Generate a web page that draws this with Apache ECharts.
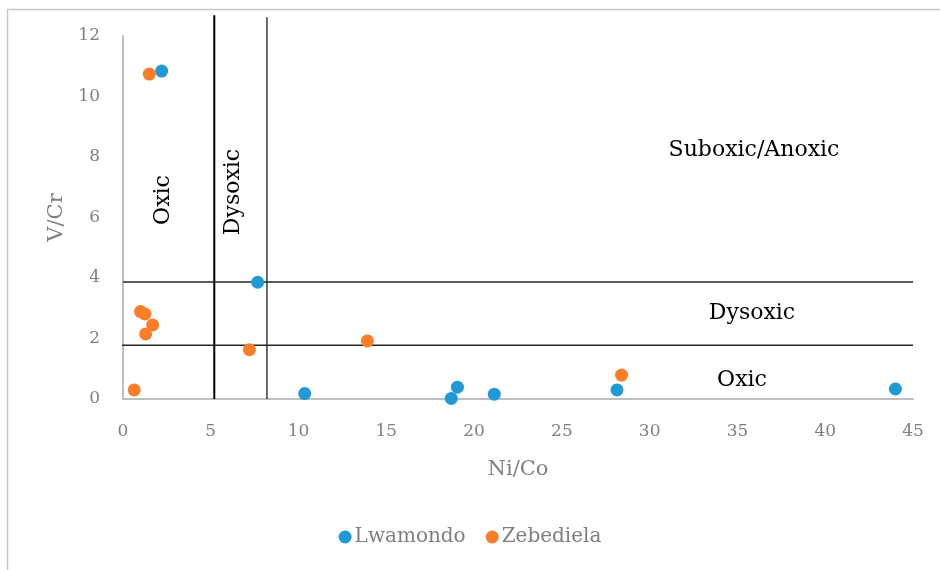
<!DOCTYPE html>
<html>
<head>
<meta charset="utf-8">
<script src="https://cdn.jsdelivr.net/npm/echarts@6/dist/echarts.min.js"></script>
<style>html,body{margin:0;padding:0;background:#fff}#c{width:940px;height:570px}</style>
</head>
<body>
<div id="c"></div>
<script>
const lwamondoX = [2.2, 7.67, 10.35, 18.7, 19.05, 21.15, 28.14, 44.0];
const lwamondoY = [10.84, 3.86, 0.18, 0.02, 0.39, 0.16, 0.30, 0.33];
const zebedielaX = [1.5, 1.0, 1.25, 1.69, 1.29, 0.64, 7.2, 13.92, 28.4];
const zebedielaY = [10.74, 2.89, 2.81, 2.45, 2.15, 0.30, 1.63, 1.92, 0.79];
const xTicks = [0, 5, 10, 15, 20, 25, 30, 35, 40, 45];
const yTicks = [0, 2, 4, 6, 8, 10, 12];
const boundaryV1 = [[5.2, 0], [5.2, 12.69]];
const boundaryV2 = [[8.2, 0], [8.2, 12.62]];
const boundaryH1 = [[0, 3.87], [45, 3.87]];
const boundaryH2 = [[-0.1, 1.775], [45, 1.775]];

const font = 'DejaVu Serif';
const pairs = (xs, ys) => xs.map((x, i) => [x, ys[i]]);
const chart = echarts.init(document.getElementById('c'));
const lineSeries = (data, color, width) => ({
  type: 'line', data: data, symbol: 'none', clip: false, silent: true,
  lineStyle: { color: color, width: width }, z: 1, animation: false
});
chart.setOption({
  animation: false,
  grid: { left: 123, right: 27, top: 36, bottom: 171 },
  xAxis: {
    type: 'value', min: 0, max: 45, interval: 5,
    name: 'Ni/Co', nameLocation: 'middle', nameGap: 60,
    nameTextStyle: { fontFamily: font, fontSize: 21, color: '#808080' },
    axisLine: { lineStyle: { color: '#BFBFBF', width: 2 } },
    axisTick: { show: false },
    splitLine: { show: false },
    axisLabel: { fontFamily: font, fontSize: 17, color: '#7f7f7f', margin: 24,
      formatter: v => xTicks.includes(v) ? String(v) : '' }
  },
  yAxis: {
    type: 'value', min: 0, max: 12, interval: 2,
    name: 'V/Cr', nameLocation: 'middle', nameGap: 55, nameRotate: 90,
    nameTextStyle: { fontFamily: font, fontSize: 21, color: '#808080' },
    axisLine: { show: true, lineStyle: { color: '#BFBFBF', width: 2 } },
    axisTick: { show: false },
    splitLine: { show: false },
    axisLabel: { fontFamily: font, fontSize: 17, color: '#7f7f7f', margin: 23,
      formatter: v => yTicks.includes(v) ? String(v) : '' }
  },
  legend: {
    data: ['Lwamondo', 'Zebediela'], bottom: 18, left: 'center',
    icon: 'circle', itemWidth: 13, itemHeight: 13, itemGap: 20, itemStyle: { borderWidth: 0 },
    textStyle: { fontFamily: font, fontSize: 20, color: '#7f7f7f', padding: [0, 0, 0, -2] }
  },
  graphic: [
    { type: 'rect', shape: { x: 7.5, y: 9.5, width: 1200, height: 1200 }, style: { fill: 'none', stroke: '#c8c8c8', lineWidth: 1.5 }, silent: true },
    { type: 'text', x: 754, y: 150, style: { text: 'Suboxic/Anoxic', font: '22px "DejaVu Serif"', fill: '#000', textAlign: 'center', textVerticalAlign: 'middle' } },
    { type: 'text', x: 752, y: 313, style: { text: 'Dysoxic', font: '22px "DejaVu Serif"', fill: '#000', textAlign: 'center', textVerticalAlign: 'middle' } },
    { type: 'text', x: 742, y: 380, style: { text: 'Oxic', font: '22px "DejaVu Serif"', fill: '#000', textAlign: 'center', textVerticalAlign: 'middle' } },
    { type: 'text', x: 163, y: 200, rotation: Math.PI / 2, style: { text: 'Oxic', font: '22px "DejaVu Serif"', fill: '#000', textAlign: 'center', textVerticalAlign: 'middle' } },
    { type: 'text', x: 233, y: 192, rotation: Math.PI / 2, style: { text: 'Dysoxic', font: '22px "DejaVu Serif"', fill: '#000', textAlign: 'center', textVerticalAlign: 'middle' } }
  ],
  series: [
    lineSeries(boundaryV1, '#000000', 2),
    lineSeries(boundaryV2, '#3a3a3a', 1.5),
    lineSeries(boundaryH1, '#262626', 1.5),
    lineSeries(boundaryH2, '#262626', 1.5),
    { name: 'Lwamondo', type: 'scatter', data: pairs(lwamondoX, lwamondoY), symbolSize: 13,
      itemStyle: { color: '#1F9AD6', opacity: 1 }, z: 3 },
    { name: 'Zebediela', type: 'scatter', data: pairs(zebedielaX, zebedielaY), symbolSize: 13,
      itemStyle: { color: '#FB7D27', opacity: 1 }, z: 4 }
  ]
});
</script>
</body>
</html>
